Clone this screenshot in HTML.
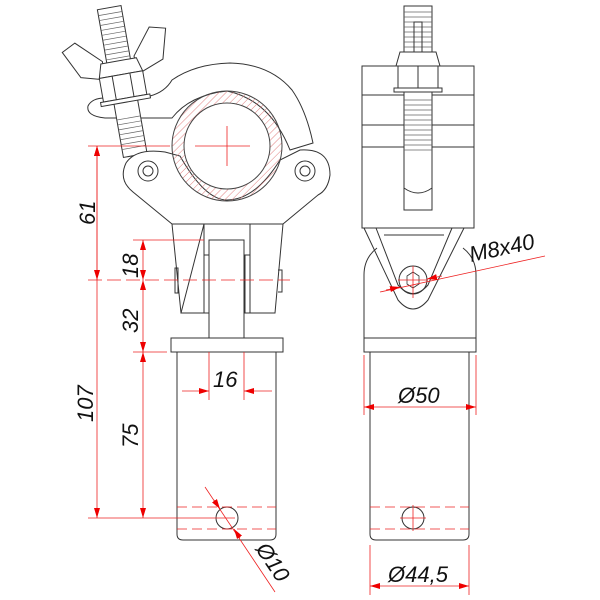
<!DOCTYPE html>
<html><head><meta charset="utf-8"><style>
html,body{margin:0;padding:0;background:#fff}
svg{display:block}
text{font-family:"Liberation Sans",sans-serif;font-style:italic;fill:#111}
</style></head><body>
<svg width="600" height="600" viewBox="0 0 600 600" xmlns="http://www.w3.org/2000/svg">
<defs>
<pattern id="h" width="5" height="5" patternUnits="userSpaceOnUse" patternTransform="rotate(45)">
<line x1="0" y1="0" x2="0" y2="5" stroke="#e08080" stroke-width="1"/></pattern>
<marker id="a" markerWidth="10" markerHeight="6" refX="10" refY="3" orient="auto-start-reverse" markerUnits="userSpaceOnUse">
<path d="M0,0 L10,3 L0,6 z" fill="#e00"/></marker>
</defs>
<g fill="none" stroke="#333" stroke-width="1">
<!-- upper clamp -->
<path d="M105 98 L150 96 Q165 92 172 80 Q195 64 230 63 Q270 64 292 90 Q306 110 313 143 L290 150 Q270 100 227 91 Q190 95 172 118 L105 118 Q86 116 88 106 Q92 98 105 98 Z" fill="#fff"/>
<!-- bolt + wing nut, tilted -->
<g transform="rotate(-10 125 80)">
<rect x="110" y="6" width="24" height="150" fill="#fff"/>
<g stroke="#666" stroke-width="0.7">
<path d="M110 12h24M110 17h24M110 22h24M110 27h24M110 32h24M110 37h24M110 42h24M110 47h24M110 52h24M110 57h24"/>
<path d="M110 118h24M110 123h24M110 128h24M110 133h24M110 138h24M110 143h24M110 148h24"/>
</g>
<path d="M106 58 L82 35 L68 42 L82 70 L104 76 Z" fill="#fff"/>
<path d="M138 58 L158 32 L174 36 L166 66 L140 76 Z" fill="#fff"/>
<path d="M104 60 h36 l4 14 h-44 z" fill="#fff"/>
<rect x="100" y="74" width="44" height="24" fill="#fff"/>
<path d="M113 74v24M131 74v24"/>
<rect x="97" y="98" width="50" height="4" fill="#fff"/>
</g>
<!-- lower clamp body -->
<path d="M172 224 L133 192 Q118 180 126 163 Q136 148 165 152 L180 156 Q205 200 227 200 Q255 200 280 160 L300 150 Q330 148 330 175 Q328 190 318 195 L283 224 Z" fill="#fff"/>
<circle cx="148" cy="171" r="10"/><circle cx="148" cy="171" r="5"/>
<circle cx="305" cy="171" r="10"/><circle cx="305" cy="171" r="5"/>
<!-- ring -->
<circle cx="227" cy="146" r="55" fill="url(#h)" stroke="#444"/>
<circle cx="227" cy="146" r="43" fill="#fff" stroke="#444"/>
<!-- fork -->
<path d="M172 224 L283 224 L275 313 L250 313 L250 224 M204 224 L204 313 L181 313 Z"/>
<path d="M172 224 L181 313"/>
<rect x="209" y="240" width="35" height="98" fill="#fff"/>
<path d="M204 255 h5 v58 h-5 M250 255 h-5 v58 h5"/>
<path d="M175 268 h3 v25 h-3 z M278 270 h4 v22 h-4"/>
<!-- plate + tube -->
<rect x="171" y="338" width="112" height="14" fill="#fff"/>
<path d="M177 352 V534 Q177 540 183 540 H270 Q276 540 276 534 V352"/>
<circle cx="227" cy="518" r="11"/>
<!-- RIGHT VIEW -->
<rect x="404" y="6" width="28" height="60" fill="#fff"/>
<g stroke="#666" stroke-width="0.7"><path d="M404 12h28M404 17h28M404 22h28M404 27h28M404 32h28M404 37h28M404 42h28M404 47h28"/></g>
<rect x="414" y="22" width="8" height="45"/>
<path d="M400 52 h36 l4 14 h-44 z" fill="#fff"/>
<rect x="362" y="66" width="112" height="162" fill="#fff"/>
<path d="M362 95h112M362 125h112M362 147h112"/>
<rect x="398" y="66" width="40" height="22" fill="#fff"/>
<path d="M418 66v22"/>
<rect x="394" y="88" width="48" height="4" fill="#fff"/>
<rect x="404" y="92" width="28" height="118" fill="#fff"/>
<g stroke="#666" stroke-width="0.7"><path d="M404 100h28M404 105h28M404 110h28M404 115h28M404 120h28M404 125h28M404 130h28M404 135h28M404 140h28M404 145h28M404 150h28"/></g>
<path d="M404 188 Q418 198 432 188"/>
<!-- lower right body -->
<path d="M364 338 V275 Q364 258 377 248 M476 338 V275 Q476 258 463 248"/>
<path d="M364 228 L398 300 Q413 318 428 300 L464 228"/>
<path d="M384 235 H444"/>
<path d="M376 228 L398 285 Q413 302 428 285 L452 228"/>
<circle cx="413" cy="280" r="14"/>
<path d="M413 272 l6 4 v8 l-6 4 l-6 -4 v-8 z" stroke-width="0.8"/>
<rect x="364" y="338" width="112" height="14" fill="#fff"/>
<path d="M370 352 V534 Q370 540 376 540 H463 Q469 540 469 534 V352"/>
<circle cx="413" cy="518" r="11"/>
</g>
<!-- RED DIMENSIONS -->
<g stroke="#e22" stroke-width="0.8" fill="none">
<path d="M88 146H170M227 126V166M195 146H250"/>
<path d="M88 280H290" stroke-dasharray="14 5"/>
<path d="M133 240H204M133 352H167M88 518H235"/>
<path d="M177 507H276M177 529H276M370 507H469M370 529H469" stroke-dasharray="10 5"/>
<path d="M413 505V531M400 518H426M413 266V298M398 280H428"/>
<path d="M97 146V518" marker-start="url(#a)" marker-end="url(#a)"/>
<path d="M143 240V280" marker-start="url(#a)" marker-end="url(#a)"/>
<path d="M143 280V352" marker-start="url(#a)" marker-end="url(#a)"/>
<path d="M143 352V518" marker-start="url(#a)" marker-end="url(#a)"/>
<path d="M97 146V280" marker-start="url(#a)" marker-end="url(#a)"/>
<path d="M209 352V400M244 352V400"/>
<path d="M182 391H209" marker-end="url(#a)"/><path d="M272 391H244" marker-end="url(#a)"/>
<path d="M205 487L275 592"/>
<path d="M214 500 L220 509" marker-end="url(#a)"/><path d="M240 538 L234 529" marker-end="url(#a)"/>
<path d="M364 355V415M476 355V415"/>
<path d="M364 407H476" marker-start="url(#a)" marker-end="url(#a)"/>
<path d="M370 545V595M469 545V595"/>
<path d="M370 586H469" marker-start="url(#a)" marker-end="url(#a)"/>
<path d="M380 292 L545 256"/>
<path d="M386 290 L400 287" marker-end="url(#a)"/><path d="M442 276 L427 279" marker-end="url(#a)"/>
</g>
<g font-size="22">
<text transform="translate(95 225) rotate(-90)">61</text>
<text transform="translate(138 278) rotate(-90)">18</text>
<text transform="translate(138 333) rotate(-90)">32</text>
<text transform="translate(138 448) rotate(-90)">75</text>
<text transform="translate(93 422) rotate(-90)">107</text>
<text x="213" y="387">16</text>
<text x="398" y="403">Ø50</text>
<text x="388" y="582">Ø44,5</text>
<text transform="translate(255 549) rotate(56)">Ø10</text>
<text transform="translate(471 262) rotate(-12)">M8x40</text>
</g>
</svg>
</body></html>
